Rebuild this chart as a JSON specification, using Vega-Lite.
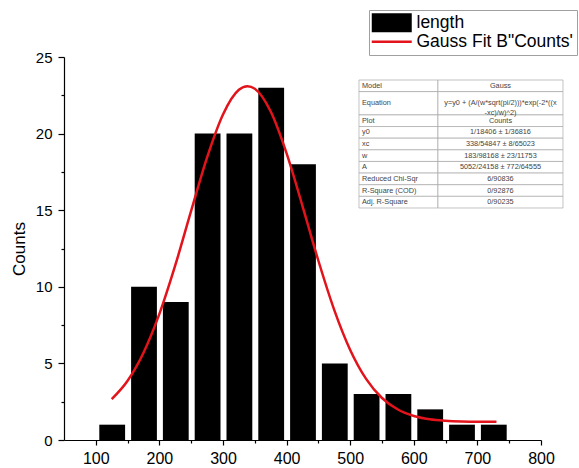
{
  "$schema": "https://vega.github.io/schema/vega-lite/v6.json",
  "width": 477,
  "height": 383,
  "autosize": "none",
  "padding": {"left": 64, "top": 57, "right": 38, "bottom": 28},
  "background": "white",
  "config": {
    "font": "Liberation Sans",
    "view": {"stroke": null},
    "axis": {"grid": false}
  },
  "datasets": {
    "hist": [
      {"start": 100, "end": 150, "count": 1, "series": "length"},
      {"start": 150, "end": 200, "count": 10, "series": "length"},
      {"start": 200, "end": 250, "count": 9, "series": "length"},
      {"start": 250, "end": 300, "count": 20, "series": "length"},
      {"start": 300, "end": 350, "count": 20, "series": "length"},
      {"start": 350, "end": 400, "count": 23, "series": "length"},
      {"start": 400, "end": 450, "count": 18, "series": "length"},
      {"start": 450, "end": 500, "count": 5, "series": "length"},
      {"start": 500, "end": 550, "count": 3, "series": "length"},
      {"start": 550, "end": 600, "count": 3, "series": "length"},
      {"start": 600, "end": 650, "count": 2, "series": "length"},
      {"start": 650, "end": 700, "count": 1, "series": "length"},
      {"start": 700, "end": 750, "count": 1, "series": "length"}
    ],
    "fit": [
      {"x": 125, "y": 2.67, "series": "Gauss Fit B\"Counts'"},
      {"x": 150, "y": 3.87, "series": "Gauss Fit B\"Counts'"},
      {"x": 175, "y": 5.70, "series": "Gauss Fit B\"Counts'"},
      {"x": 200, "y": 8.23, "series": "Gauss Fit B\"Counts'"},
      {"x": 225, "y": 11.41, "series": "Gauss Fit B\"Counts'"},
      {"x": 250, "y": 14.97, "series": "Gauss Fit B\"Counts'"},
      {"x": 275, "y": 18.45, "series": "Gauss Fit B\"Counts'"},
      {"x": 300, "y": 21.25, "series": "Gauss Fit B\"Counts'"},
      {"x": 325, "y": 22.86, "series": "Gauss Fit B\"Counts'"},
      {"x": 338.5, "y": 23.09, "series": "Gauss Fit B\"Counts'"},
      {"x": 350, "y": 22.93, "series": "Gauss Fit B\"Counts'"},
      {"x": 375, "y": 21.44, "series": "Gauss Fit B\"Counts'"},
      {"x": 400, "y": 18.71, "series": "Gauss Fit B\"Counts'"},
      {"x": 425, "y": 15.27, "series": "Gauss Fit B\"Counts'"},
      {"x": 450, "y": 11.70, "series": "Gauss Fit B\"Counts'"},
      {"x": 475, "y": 8.48, "series": "Gauss Fit B\"Counts'"},
      {"x": 500, "y": 5.88, "series": "Gauss Fit B\"Counts'"},
      {"x": 525, "y": 3.99, "series": "Gauss Fit B\"Counts'"},
      {"x": 550, "y": 2.74, "series": "Gauss Fit B\"Counts'"},
      {"x": 575, "y": 1.99, "series": "Gauss Fit B\"Counts'"},
      {"x": 600, "y": 1.57, "series": "Gauss Fit B\"Counts'"},
      {"x": 625, "y": 1.36, "series": "Gauss Fit B\"Counts'"},
      {"x": 650, "y": 1.26, "series": "Gauss Fit B\"Counts'"},
      {"x": 675, "y": 1.21, "series": "Gauss Fit B\"Counts'"},
      {"x": 700, "y": 1.19, "series": "Gauss Fit B\"Counts'"},
      {"x": 730, "y": 1.19, "series": "Gauss Fit B\"Counts'"}
    ],
    "table": [
      {"r0": 0, "r1": 1, "rm": 0.5, "label": "Model", "value": "Gauss"},
      {"r0": 1, "r1": 3, "rm": 2, "label": "Equation", "value": ["y=y0 + (A/(w*sqrt(pi/2)))*exp(-2*((x", "-xc)/w)^2)"]},
      {"r0": 3, "r1": 4, "rm": 3.5, "label": "Plot", "value": "Counts"},
      {"r0": 4, "r1": 5, "rm": 4.5, "label": "y0", "value": "1/18406 ± 1/36816"},
      {"r0": 5, "r1": 6, "rm": 5.5, "label": "xc", "value": "338/54847 ± 8/65023"},
      {"r0": 6, "r1": 7, "rm": 6.5, "label": "w", "value": "183/98168 ± 23/11753"},
      {"r0": 7, "r1": 8, "rm": 7.5, "label": "A", "value": "5052/24158 ± 772/64555"},
      {"r0": 8, "r1": 9, "rm": 8.5, "label": "Reduced Chi-Sqr", "value": "6/90836"},
      {"r0": 9, "r1": 10, "rm": 9.5, "label": "R-Square (COD)", "value": "0/92876"},
      {"r0": 10, "r1": 11, "rm": 10.5, "label": "Adj. R-Square", "value": "0/90235"}
    ]
  },
  "layer": [
    {
      "layer": [
        {
          "data": {"name": "hist"},
          "mark": {"type": "bar", "binSpacing": 6},
          "encoding": {
            "x": {
              "field": "start", "type": "quantitative", "bin": "binned",
              "scale": {"domain": [50, 800], "nice": false, "zero": false},
              "axis": {
                "values": [100, 200, 300, 400, 500, 600, 700, 800],
                "title": null, "tickSize": 5, "tickWidth": 1.2, "tickColor": "black",
                "domainColor": "black", "domainWidth": 1.2,
                "labelFontSize": 16, "labelColor": "black", "labelPadding": 5, "labelFlush": false
              }
            },
            "x2": {"field": "end"},
            "y": {
              "field": "count", "type": "quantitative",
              "scale": {"domain": [0, 25], "nice": false},
              "axis": {
                "values": [0, 5, 10, 15, 20, 25],
                "title": "Counts", "titleFontSize": 17, "titleFontWeight": "normal", "titleColor": "black",
                "titlePadding": 7,
                "tickSize": 6, "tickWidth": 1.2, "tickColor": "black",
                "domainColor": "black", "domainWidth": 1.2,
                "labelFontSize": 15, "labelColor": "black", "labelPadding": 6
              }
            },
            "color": {
              "field": "series", "type": "nominal",
              "scale": {"domain": ["length", "Gauss Fit B\"Counts'"], "range": ["#000000", "#e3131b"]},
              "legend": {
                "orient": "none", "legendX": 305, "legendY": -47,
                "title": null, "labelFontSize": 17.5, "labelColor": "black", "labelOffset": 26,
                "symbolSize": 400, "rowPadding": -4, "padding": 4,
                "strokeColor": "#a0a0a0", "fillColor": "white",
                "encode": {
                  "symbols": {
                    "update": {
                      "shape": {"signal": "datum.value === 'length' ? 'M-1,-0.95H3V0.95H-1Z' : 'M-1,0H3'"},
                      "fill": {"signal": "datum.value === 'length' ? '#000000' : 'transparent'"},
                      "stroke": {"signal": "datum.value === 'length' ? 'transparent' : '#e3131b'"},
                      "strokeWidth": {"signal": "datum.value === 'length' ? 0 : 2.5"},
                      "opacity": {"value": 1}
                    }
                  }
                }
              }
            }
          }
        },
        {
          "data": {"name": "fit"},
          "mark": {"type": "line", "strokeWidth": 2.5, "interpolate": "monotone"},
          "encoding": {
            "x": {"field": "x", "type": "quantitative"},
            "y": {"field": "y", "type": "quantitative"},
            "color": {"field": "series", "type": "nominal"}
          }
        }
      ]
    },
    {
      "data": {"name": "hist"},
      "mark": {"type": "point", "opacity": 0},
      "encoding": {
        "x": {
          "field": "start", "type": "quantitative",
          "scale": {"domain": [50, 800], "nice": false, "zero": false},
          "axis": {"orient": "bottom", "values": [150, 250, 350, 450, 550, 650, 750], "labels": false, "domain": false, "title": null, "tickSize": 3, "tickWidth": 1.2, "tickColor": "black"}
        },
        "y": {
          "field": "count", "type": "quantitative",
          "scale": {"domain": [0, 25], "nice": false},
          "axis": {"orient": "left", "values": [2.5, 7.5, 12.5, 17.5, 22.5], "labels": false, "domain": false, "title": null, "tickSize": 3, "tickWidth": 1.2, "tickColor": "black"}
        }
      }
    },
    {
      "data": {"name": "table"},
      "layer": [
        {
          "mark": {"type": "rect", "fill": "white", "stroke": "#a8a8a8", "strokeWidth": 0.7},
          "encoding": {
            "x": {"datum": 0, "type": "quantitative", "scale": {"domain": [-1.4461, 0.8922], "nice": false, "zero": false}, "axis": null},
            "x2": {"datum": 0.387},
            "y": {"field": "r0", "type": "quantitative", "scale": {"domain": [-1.9766, 30.938], "reverse": true, "nice": false, "zero": false}, "axis": null},
            "y2": {"field": "r1"}
          }
        },
        {
          "mark": {"type": "rect", "fill": "white", "stroke": "#a8a8a8", "strokeWidth": 0.7},
          "encoding": {
            "x": {"datum": 0.387, "type": "quantitative"},
            "x2": {"datum": 1},
            "y": {"field": "r0", "type": "quantitative"},
            "y2": {"field": "r1"}
          }
        },
        {
          "mark": {"type": "text", "align": "left", "baseline": "middle", "dx": 3, "fontSize": 7.3, "color": "#444444"},
          "encoding": {
            "x": {"datum": 0, "type": "quantitative"},
            "y": {"field": "rm", "type": "quantitative"},
            "text": {"field": "label"}
          }
        },
        {
          "mark": {"type": "text", "align": "center", "baseline": "middle", "fontSize": 7.3, "lineHeight": 9.5, "color": "#444444"},
          "encoding": {
            "x": {"datum": 0.6935, "type": "quantitative"},
            "y": {"field": "rm", "type": "quantitative"},
            "text": {"field": "value"}
          }
        }
      ]
    }
  ],
  "resolve": {
    "scale": {"x": "independent", "y": "independent"},
    "axis": {"x": "independent", "y": "independent"}
  }
}
